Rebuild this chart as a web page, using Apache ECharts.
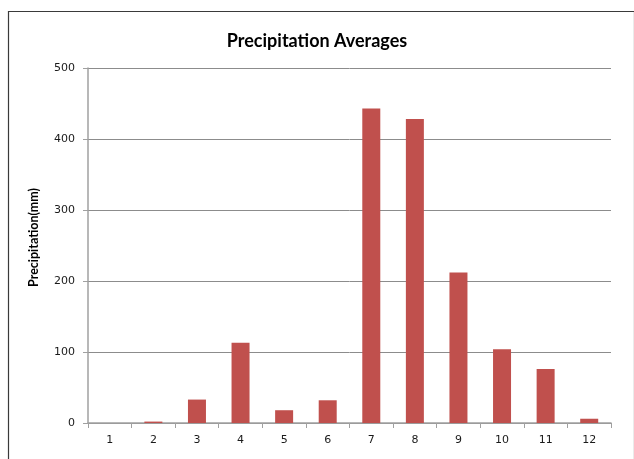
<!DOCTYPE html>
<html>
<head>
<meta charset="utf-8">
<script src="https://cdn.jsdelivr.net/npm/echarts@6/dist/echarts.min.js"></script>
<style>html,body{margin:0;padding:0;background:#fff;}#c{width:634px;height:459px;}</style>
</head>
<body>
<div id="c"></div>
<script>
const months = ['1','2','3','4','5','6','7','8','9','10','11','12'];
const precipitation = [0, 2, 33, 113, 18, 32, 443, 428, 212, 104, 76, 6];
const yTicks = { min: 0, max: 500, interval: 100 };

const chart = echarts.init(document.getElementById('c'), null, { renderer: 'canvas' });
chart.setOption({
  animation: false,
  backgroundColor: '#fff',
  graphic: [{
    type: 'rect', left: 6, top: 9, z: -1,
    shape: { width: 626, height: 460 },
    style: { fill: 'none', stroke: '#3a3a3a', lineWidth: 1.2 }
  }],
  title: {
    text: 'Precipitation Averages', left: 'center', top: 27,
    textStyle: { fontFamily: 'Lato', fontWeight: 'bold', fontSize: 18, color: '#000' }
  },
  grid: { left: 88, right: 23, top: 68, bottom: 36 },
  xAxis: {
    type: 'category', data: months,
    axisLine: { lineStyle: { color: '#a0a0a0', width: 1.5 } },
    axisTick: { show: true, alignWithLabel: false, length: 5, lineStyle: { color: '#a0a0a0' } },
    axisLabel: { color: '#1a1a1a', fontFamily: 'DejaVu Sans', fontSize: 11, margin: 12 }
  },
  yAxis: {
    type: 'value', min: yTicks.min, max: yTicks.max, interval: yTicks.interval,
    name: 'Precipitation(mm)', nameLocation: 'middle', nameGap: 48, nameRotate: 90,
    nameTextStyle: { fontFamily: 'Lato', fontWeight: 'bold', fontSize: 12.5, color: '#000', padding: [0, 0, 0, 16] },
    axisLine: { show: true, lineStyle: { color: '#a0a0a0', width: 1.5 } },
    axisTick: { show: true, length: 5, lineStyle: { color: '#a0a0a0' } },
    axisLabel: { color: '#1a1a1a', fontFamily: 'DejaVu Sans', fontSize: 11, margin: 13 },
    splitLine: { lineStyle: { color: '#8c8c8c', width: 1 } }
  },
  series: [{
    type: 'bar', data: precipitation, barWidth: 18,
    itemStyle: { color: '#c0504d' }
  }]
});
</script>
</body>
</html>
